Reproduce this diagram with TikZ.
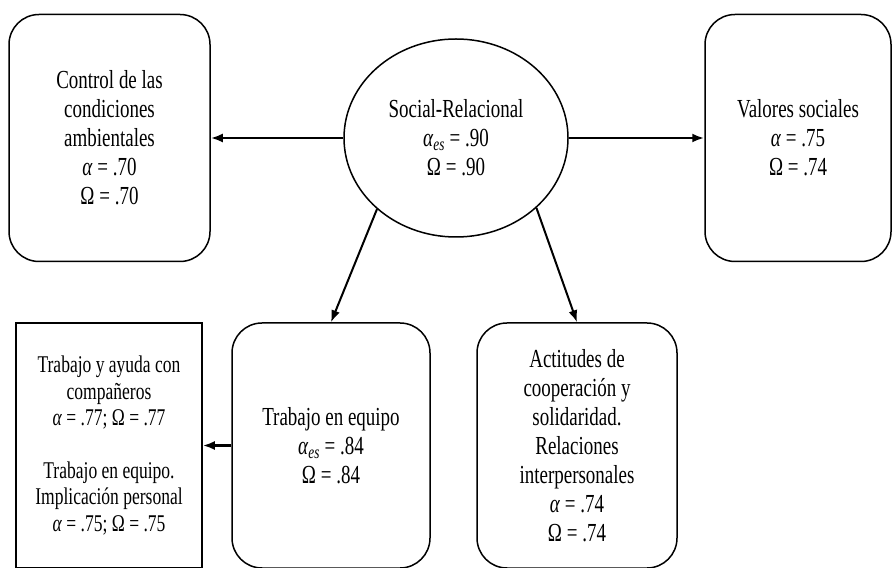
\documentclass[tikz,border=0pt]{standalone}
\usepackage{fontspec}
\setmainfont{Liberation Serif}[FakeStretch=0.73]
\usetikzlibrary{shapes.geometric,arrows.meta}

\begin{document}
\begin{tikzpicture}[x=1pt,y=1pt,
	roundbox/.style={shape=rectangle,draw=black,line width=1.5pt,rounded corners=30pt,align=center,inner sep=0pt,font=\fontsize{26}{29}\selectfont},
	plainbox/.style={shape=rectangle,draw=black,line width=1.5pt,align=center,inner sep=0pt,font=\fontsize{24}{26.5}\selectfont},
	link/.style={-{Latex[length=12pt,width=9pt]},line width=2.6pt}]

	\useasboundingbox (0,0) rectangle (893,567);
	\clip (0,0) rectangle (893,567);

	\node[shape=ellipse,draw=black,line width=1.5pt,minimum width=224pt,minimum height=198pt,inner sep=0pt,align=center,font=\fontsize{26}{29}\selectfont] (soc) at (456, 429) {Social-Relacional\\\textit{α}\textsubscript{\textit{es}} = .90\\Ω = .90};

	\node[roundbox,minimum width=201pt,minimum height=247pt] (ctrl) at (109.5, 429) {Control de las\\condiciones\\ambientales\\\textit{α} = .70\\Ω = .70};
	\node[roundbox,minimum width=186pt,minimum height=247pt] (val) at (798, 429) {Valores sociales\\\textit{α} = .75\\Ω = .74};

	\node[roundbox,minimum width=198pt,minimum height=245pt] (trab) at (331, 121.5) {Trabajo en equipo\\\textit{α}\textsubscript{\textit{es}} = .84\\Ω = .84};
	\node[roundbox,minimum width=200pt,minimum height=245pt] (act) at (577, 121.5) {Actitudes de\\cooperación y\\solidaridad.\\Relaciones\\interpersonales\\\textit{α} = .74\\Ω = .74};
	\node[plainbox,minimum width=186pt,minimum height=245pt] (sub) at (109, 121.5) {Trabajo y ayuda con\\compañeros\\\textit{α} = .77; Ω = .77\\[26pt]Trabajo en equipo.\\Implicación personal\\\textit{α} = .75; Ω = .75};

	\draw[link] (soc) -- (ctrl);
	\draw[link] (soc) -- (val);
	\draw[link,line width=2pt] (soc.222) -- (trab.north);
	\draw[link,line width=2pt] (soc.319) -- (act.north);
	\draw[link] (trab.west) -- (sub.east);

\end{tikzpicture}
\end{document}
